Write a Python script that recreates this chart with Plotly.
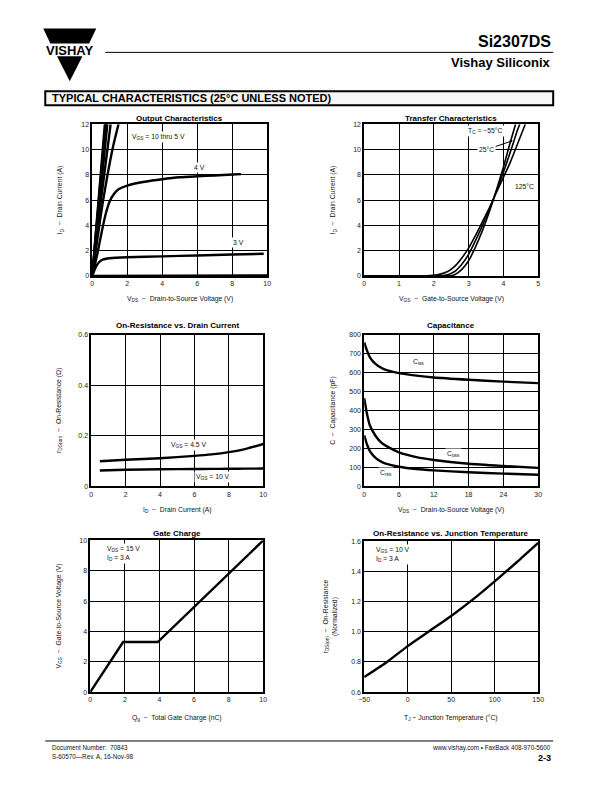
import plotly.graph_objects as go

# page is 612x792; the html body adds an 8px margin on every side,
# so the figure is 596x776 placed at (8, 8)
PAGE_OFF = 8
W, H = 612 - 2 * PAGE_OFF, 792 - 2 * PAGE_OFF
# small correction measured between the reference and the rendered page
SX, OX = 0.980, 5.9
SY, OY = 0.993, 3.6
FONT = "Liberation Sans, Arial, sans-serif"
NARROW = "Liberation Sans Narrow, Arial Narrow, Liberation Sans, Arial, sans-serif"

# ---------------- data ----------------
# Output characteristics (VDS, ID)
out_vds_10v = [0, 0.72]; out_id_10v = [0, 12]
out_vds_9v = [0, 0.76]; out_id_9v = [0, 12]
out_vds_8v = [0, 0.80]; out_id_8v = [0, 12]
out_vds_7v = [0, 0.86]; out_id_7v = [0, 12]
out_vds_6v = [0, 0.5, 1.05]; out_id_6v = [0, 6.0, 12]
out_vds_5v = [0, 0.3, 0.6, 0.9, 1.2, 1.5]; out_id_5v = [0, 3.0, 5.8, 8.2, 10.3, 12]
out_vds_4v = [0, 0.3, 0.5, 0.75, 1.0, 1.25, 1.5, 2, 3, 4, 5, 6, 7, 8, 8.5]
out_id_4v = [0, 1.8, 3.2, 4.8, 5.9, 6.5, 6.85, 7.15, 7.45, 7.65, 7.8, 7.88, 7.95, 8.02, 8.05]
out_vds_3v = [0, 0.2, 0.4, 0.6, 1, 2, 4, 6, 8, 9.8]
out_id_3v = [0, 0.7, 1.1, 1.3, 1.4, 1.48, 1.55, 1.62, 1.7, 1.75]
out_vds_2v = [0, 10]; out_id_2v = [0, 0.03]

# Transfer characteristics (VGS, ID)
tr_vgs_m55 = [0, 2.4, 2.6, 2.8, 3.0, 3.2, 3.4, 3.6, 3.8, 4.0, 4.2, 4.35]
tr_id_m55 = [0, 0, 0.1, 0.5, 1.2, 2.3, 3.6, 5.1, 6.8, 8.6, 10.6, 12]
tr_vgs_25 = [0, 2.1, 2.4, 2.6, 2.8, 3.0, 3.2, 3.4, 3.6, 3.8, 4.0, 4.2, 4.4, 4.47]
tr_id_25 = [0, 0, 0.1, 0.35, 0.9, 1.7, 2.8, 4.0, 5.3, 6.7, 8.2, 9.8, 11.5, 12]
tr_vgs_125 = [0, 1.8, 2.1, 2.4, 2.6, 2.8, 3.0, 3.2, 3.4, 3.6, 3.8, 4.0, 4.2, 4.4, 4.6, 4.63]
tr_id_125 = [0, 0, 0.08, 0.35, 0.75, 1.4, 2.2, 3.2, 4.3, 5.4, 6.6, 7.8, 9.0, 10.4, 11.8, 12]

# On-resistance vs drain current (ID, rDS(on))
ron_id = [0.5, 2, 4, 6, 7, 8, 9, 10]
ron_vgs45 = [0.100, 0.106, 0.112, 0.121, 0.127, 0.136, 0.149, 0.168]
ron_vgs10 = [0.063, 0.066, 0.068, 0.069, 0.0695, 0.070, 0.0705, 0.071]

# Capacitance (VDS, pF)
cap_vds = [0, 0.5, 1, 2, 3, 4, 6, 9, 12, 18, 24, 30]
cap_ciss = [760, 715, 680, 645, 625, 612, 598, 585, 575, 563, 553, 545]
cap_coss = [465, 380, 320, 265, 230, 210, 180, 155, 140, 120, 108, 98]
cap_crss = [270, 220, 185, 150, 130, 118, 104, 92, 85, 75, 68, 62]

# Gate charge (Qg, VGS)
gc_qg = [0, 1.9, 3.9, 10]
gc_vgs = [0, 3.3, 3.3, 10]

# On-resistance vs junction temperature (TJ, normalized)
tj_temp = [-50, -25, 0, 25, 50, 75, 100, 125, 150]
tj_ron = [0.70, 0.795, 0.905, 1.005, 1.105, 1.215, 1.335, 1.46, 1.59]

# ---------------- helpers ----------------
def px(x):
    xd = (x - OX) / SX
    return (xd - PAGE_OFF) / W

def py(y):
    yd = (y - OY) / SY
    return 1 - (yd - PAGE_OFF) / H

def axis(x0, x1, rng, dtick, anchor, tick0=0, fmt=None, which="x"):
    d = dict(
        domain=[px(x0), px(x1)] if which == "x" else [py(x1), py(x0)],
        range=rng, dtick=dtick, tick0=tick0, anchor=anchor,
        showline=True, mirror=True, linecolor="black", linewidth=1.6,
        showgrid=True, gridcolor="black", gridwidth=1.1, zeroline=False,
        ticks="", tickfont=dict(size=7, color="#222", family=FONT),
        fixedrange=True, layer="below traces",
    )
    if fmt:
        d["tickformat"] = fmt
    return d

fig = go.Figure()

def line(x, y, xa, ya, w=2.4):
    fig.add_trace(go.Scatter(x=x, y=y, xaxis=xa, yaxis=ya, mode="lines",
                             line=dict(color="black", width=w, shape="spline", smoothing=0.6),
                             hoverinfo="skip"))

# chart 1
for xs, ys in [(out_vds_10v, out_id_10v), (out_vds_9v, out_id_9v), (out_vds_8v, out_id_8v),
               (out_vds_7v, out_id_7v), (out_vds_6v, out_id_6v), (out_vds_5v, out_id_5v),
               (out_vds_4v, out_id_4v), (out_vds_3v, out_id_3v), (out_vds_2v, out_id_2v)]:
    line(xs, ys, "x", "y")
# chart 2
for xs, ys in [(tr_vgs_m55, tr_id_m55), (tr_vgs_25, tr_id_25), (tr_vgs_125, tr_id_125)]:
    line(xs, ys, "x2", "y2", w=1.6)
# chart 3
line(ron_id, ron_vgs45, "x3", "y3")
line(ron_id, ron_vgs10, "x3", "y3")
# chart 4
line(cap_vds, cap_ciss, "x4", "y4")
line(cap_vds, cap_coss, "x4", "y4")
line(cap_vds, cap_crss, "x4", "y4")
# chart 5
fig.add_trace(go.Scatter(x=gc_qg, y=gc_vgs, xaxis="x5", yaxis="y5", mode="lines",
                         line=dict(color="black", width=2.4), hoverinfo="skip"))
# chart 6
line(tj_temp, tj_ron, "x6", "y6")

# charts' pixel boxes on the page (left, right, top, bottom)
B1 = (92, 267, 124, 276)
B2 = (364, 538, 124, 276)
B3 = (91, 263, 335, 487)
B4 = (364, 538, 335, 487)
B5 = (90, 263, 541, 693)
B6 = (364, 538, 542, 693)

lay = dict(
    width=W, height=H, margin=dict(l=0, r=0, t=0, b=0),
    paper_bgcolor="white", plot_bgcolor="white", showlegend=False,
    font=dict(family=FONT, color="black"),
)
lay["xaxis"] = axis(B1[0], B1[1], [0, 10], 2, "y")
lay["yaxis"] = axis(B1[2], B1[3], [0, 12], 2, "x", which="y")
lay["xaxis2"] = axis(B2[0], B2[1], [0, 5], 1, "y2")
lay["yaxis2"] = axis(B2[2], B2[3], [0, 12], 2, "x2", which="y")
lay["xaxis3"] = axis(B3[0], B3[1], [0, 10], 2, "y3")
lay["yaxis3"] = axis(B3[2], B3[3], [0, 0.6], 0.2, "x3", which="y")
lay["xaxis4"] = axis(B4[0], B4[1], [0, 30], 6, "y4")
lay["yaxis4"] = axis(B4[2], B4[3], [0, 800], 100, "x4", which="y")
lay["xaxis5"] = axis(B5[0], B5[1], [0, 10], 2, "y5")
lay["yaxis5"] = axis(B5[2], B5[3], [0, 10], 2, "x5", which="y")
lay["xaxis6"] = axis(B6[0], B6[1], [-50, 150], 50, "y6", tick0=-50)
lay["yaxis6"] = axis(B6[2], B6[3], [0.6, 1.6], 0.2, "x6", tick0=0.6, fmt=".1f", which="y")
fig.update_layout(**lay)

ann = []

def ptext(x, y, text, size=7, bold=False, xanchor="center", yanchor="middle", angle=0,
          family=FONT, color="#111", align="center"):
    t = f"<b>{text}</b>" if bold else text
    ann.append(dict(x=px(x), y=py(y), xref="paper", yref="paper", text=t, showarrow=False,
                    xanchor=xanchor, yanchor=yanchor, textangle=angle, align=align,
                    font=dict(size=size, family=family, color=color)))

def dtext(x, y, text, xa, ya, bg="white", xanchor="center", yanchor="middle", align="center", size=6.8):
    ann.append(dict(x=x, y=y, xref=xa, yref=ya, text=text, showarrow=False,
                    xanchor=xanchor, yanchor=yanchor, align=align, bgcolor=bg, borderpad=1,
                    font=dict(size=size, family=FONT, color="#111")))

# chart titles
for b, t, yy in [(B1, "Output Characteristics", 118), (B2, "Transfer Characteristics", 118),
                 (B3, "On-Resistance vs. Drain Current", 326), (B4, "Capacitance", 326),
                 (B5, "Gate Charge", 534), (B6, "On-Resistance vs. Junction Temperature", 534)]:
    ptext((b[0] + b[1]) / 2, yy, t, size=8, bold=True, color="black")

# x-axis titles
for b, t, yy in [(B1, "V<sub>DS</sub>  −  Drain-to-Source Voltage (V)", 299),
                 (B2, "V<sub>GS</sub>  −  Gate-to-Source Voltage (V)", 299),
                 (B3, "I<sub>D</sub>  −  Drain Current (A)", 511),
                 (B4, "V<sub>DS</sub>  −  Drain-to-Source Voltage (V)", 511),
                 (B5, "Q<sub>g</sub>  −  Total Gate Charge (nC)", 719),
                 (B6, "T<sub>J</sub> − Junction Temperature (°C)", 719)]:
    ptext((b[0] + b[1]) / 2, yy, t, size=6.8)

# y-axis titles
ptext(60, 200, "I<sub>D</sub>  −  Drain Current (A)", size=6.8, angle=-90)
ptext(333, 200, "I<sub>D</sub>  −  Drain Current (A)", size=6.8, angle=-90)
ptext(58, 411, "r<sub>DS(on)</sub>  −  On-Resistance (Ω)", size=6.8, angle=-90)
ptext(332, 411, "C  −  Capacitance (pF)", size=6.8, angle=-90)
ptext(59, 617, "V<sub>GS</sub>  −  Gate-to-Source Voltage (V)", size=6.8, angle=-90)
ptext(330, 617, "r<sub>DS(on)</sub>  −  On-Resistance<br>(Normalized)", size=6.8, angle=-90)

# in-chart labels
dtext(3.8, 11.0, "V<sub>GS</sub> = 10 thru 5 V", "x", "y")
dtext(6.15, 8.6, "4 V", "x", "y")
dtext(8.35, 2.65, "3 V", "x", "y")
dtext(3.5, 11.45, "T<sub>C</sub> = −55°C", "x2", "y2")
ann.append(dict(x=4.27, y=10.7, xref="x2", yref="y2", ax=3.52, ay=10.0, axref="x2", ayref="y2",
                text="25°C", showarrow=True, arrowhead=2, arrowsize=0.6, arrowwidth=1,
                arrowcolor="black", bgcolor="white", borderpad=1, standoff=0,
                font=dict(size=6.8, family=FONT, color="#111")))
dtext(4.62, 7.1, "125°C", "x2", "y2")
dtext(5.7, 0.164, "V<sub>GS</sub> = 4.5 V", "x3", "y3")
dtext(7.1, 0.036, "V<sub>GS</sub> = 10 V", "x3", "y3")
dtext(9.4, 654, "C<sub>iss</sub>", "x4", "y4")
dtext(15.4, 170, "C<sub>oss</sub>", "x4", "y4")
dtext(3.7, 69, "C<sub>rss</sub>", "x4", "y4")
dtext(0.85, 9.8, "V<sub>DS</sub> = 15 V<br>I<sub>D</sub> = 3 A", "x5", "y5",
      xanchor="left", yanchor="top", align="left")
dtext(-39, 1.58, "V<sub>GS</sub> = 10 V<br>I<sub>D</sub> = 3 A", "x6", "y6",
      xanchor="left", yanchor="top", align="left")

# header
ptext(553, 41, "Si2307DS", size=16, bold=True, xanchor="right", family=NARROW, color="black")
ptext(553, 62, "Vishay Siliconix", size=13, bold=True, xanchor="right", family=NARROW, color="black")
ptext(69.5, 50, "VISHAY", size=13, bold=True, color="black")
ptext(50, 98, "TYPICAL CHARACTERISTICS (25°C UNLESS NOTED)", size=11, bold=True,
      xanchor="left", color="black")

# footer
ptext(50, 749, "Document Number:  70843", size=6.3, xanchor="left")
ptext(50, 758, "S-60570—Rev. A, 16-Nov-98", size=6.3, xanchor="left")
ptext(553, 749, "www.vishay.com • FaxBack 408-970-5600", size=6.3, xanchor="right")
ptext(553, 759, "2-3", size=9, bold=True, xanchor="right", family=NARROW, color="black")

fig.update_layout(annotations=ann)

# decorative page elements
def pth(points):
    return "M " + " L ".join(f"{px(a):.5f},{py(b):.5f}" for a, b in points) + " Z"

shapes = [
    dict(type="path", xref="paper", yref="paper", path=pth([(43, 28), (96, 28), (88.9, 43), (50.1, 43)]),
         fillcolor="black", line=dict(width=0)),
    dict(type="path", xref="paper", yref="paper", path=pth([(56.8, 56), (82.2, 56), (69.5, 81)]),
         fillcolor="black", line=dict(width=0)),
    dict(type="line", xref="paper", yref="paper", x0=px(105), x1=px(553), y0=py(52), y1=py(52),
         line=dict(color="black", width=1)),
    dict(type="rect", xref="paper", yref="paper", x0=px(45), x1=px(553), y0=py(91), y1=py(105),
         fillcolor="#f6f6f6", line=dict(color="black", width=2), layer="below"),
    dict(type="line", xref="paper", yref="paper", x0=px(45), x1=px(553), y0=py(742), y1=py(742),
         line=dict(color="black", width=1)),
]
fig.update_layout(shapes=shapes)

fig.write_html("out.html")
